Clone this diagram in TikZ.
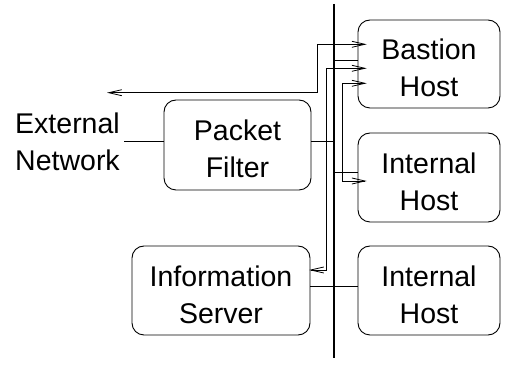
\documentclass[tikz,border=0pt]{standalone}
\usepackage{fontspec}
\setmainfont{Liberation Sans}
\usetikzlibrary{arrows.meta}
\begin{document}
\begin{tikzpicture}[x=1pt,y=-1pt,
  box/.style={draw, rounded corners=12pt, line width=0.9pt, inner sep=0pt},
  lbl/.style={align=center, font=\fontsize{28.5}{36.7}\selectfont, inner sep=0pt},
  boxlbl/.style={lbl, yshift=-4pt},
  conn/.style={line width=0.9pt},
  busline/.style={line width=1.4pt},
  flow/.style={line width=0.8pt, {Straight Barb[length=13pt,width=6pt]}-{Straight Barb[length=13pt,width=6pt]}}]
\useasboundingbox (0,0) rectangle (507,371);
% nodes
\node[box, minimum width=142pt, minimum height=88pt,
  label={[boxlbl]center:{Bastion\\Host}}] (bastion) at (429,64) {};
\node[box, minimum width=142pt, minimum height=89pt,
  label={[boxlbl]center:{Internal\\Host}}] (ih1) at (429,177.5) {};
\node[box, minimum width=142pt, minimum height=89pt,
  label={[boxlbl]center:{Internal\\Host}}] (ih2) at (429,290.5) {};
\node[box, minimum width=147pt, minimum height=90pt,
  label={[boxlbl]center:{Packet\\Filter}}] (pf) at (237.5,145) {};
\node[box, minimum width=178pt, minimum height=89pt,
  label={[boxlbl]center:{Information\\Server}}] (is) at (221,290.5) {};
\node[lbl] (ext) at (67.5,141.5) {External\\Network};
% bus
\coordinate (bt) at (334,4);
\coordinate (bb) at (334,358);
\draw[busline] (bt) -- (bb);
% bus connections
\coordinate (extline) at (124,141);
\coordinate (pfbus) at (334,141);
\coordinate (bbus) at (334,60);
\coordinate (ih1bus) at (334,172.7);
\coordinate (isline) at (310,286.7);
\draw[conn] (extline) -- (extline -| pf.west);
\draw[conn] (pfbus -| pf.east) -- (pfbus);
\draw[conn] (bbus) -- (bbus -| bastion.west);
\draw[conn] (ih1bus) -- (ih1bus -| ih1.west);
\draw[conn] (isline -| is.east) -- (isline -| ih2.west);
% flows
\coordinate (a1s) at (107,92.7);
\coordinate (a1m) at (317.3,92.7);
\coordinate (a1n) at (317.3,44.3);
\coordinate (a1e) at (366.7,44.3);
\draw[flow] (a1s) -- (a1m) -- (a1n) -- (a1e);
\coordinate (a2s) at (309,270);
\coordinate (a2m) at (326.7,270);
\coordinate (a2n) at (326.7,68.3);
\coordinate (a2e) at (366.7,68.3);
\draw[flow] (a2s) -- (a2m) -- (a2n) -- (a2e);
\coordinate (a3s) at (366.7,83.3);
\coordinate (a3m) at (342.3,83.3);
\coordinate (a3n) at (342.3,181);
\coordinate (a3e) at (366.7,181);
\draw[flow] (a3s) -- (a3m) -- (a3n) -- (a3e);
\end{tikzpicture}
\end{document}
